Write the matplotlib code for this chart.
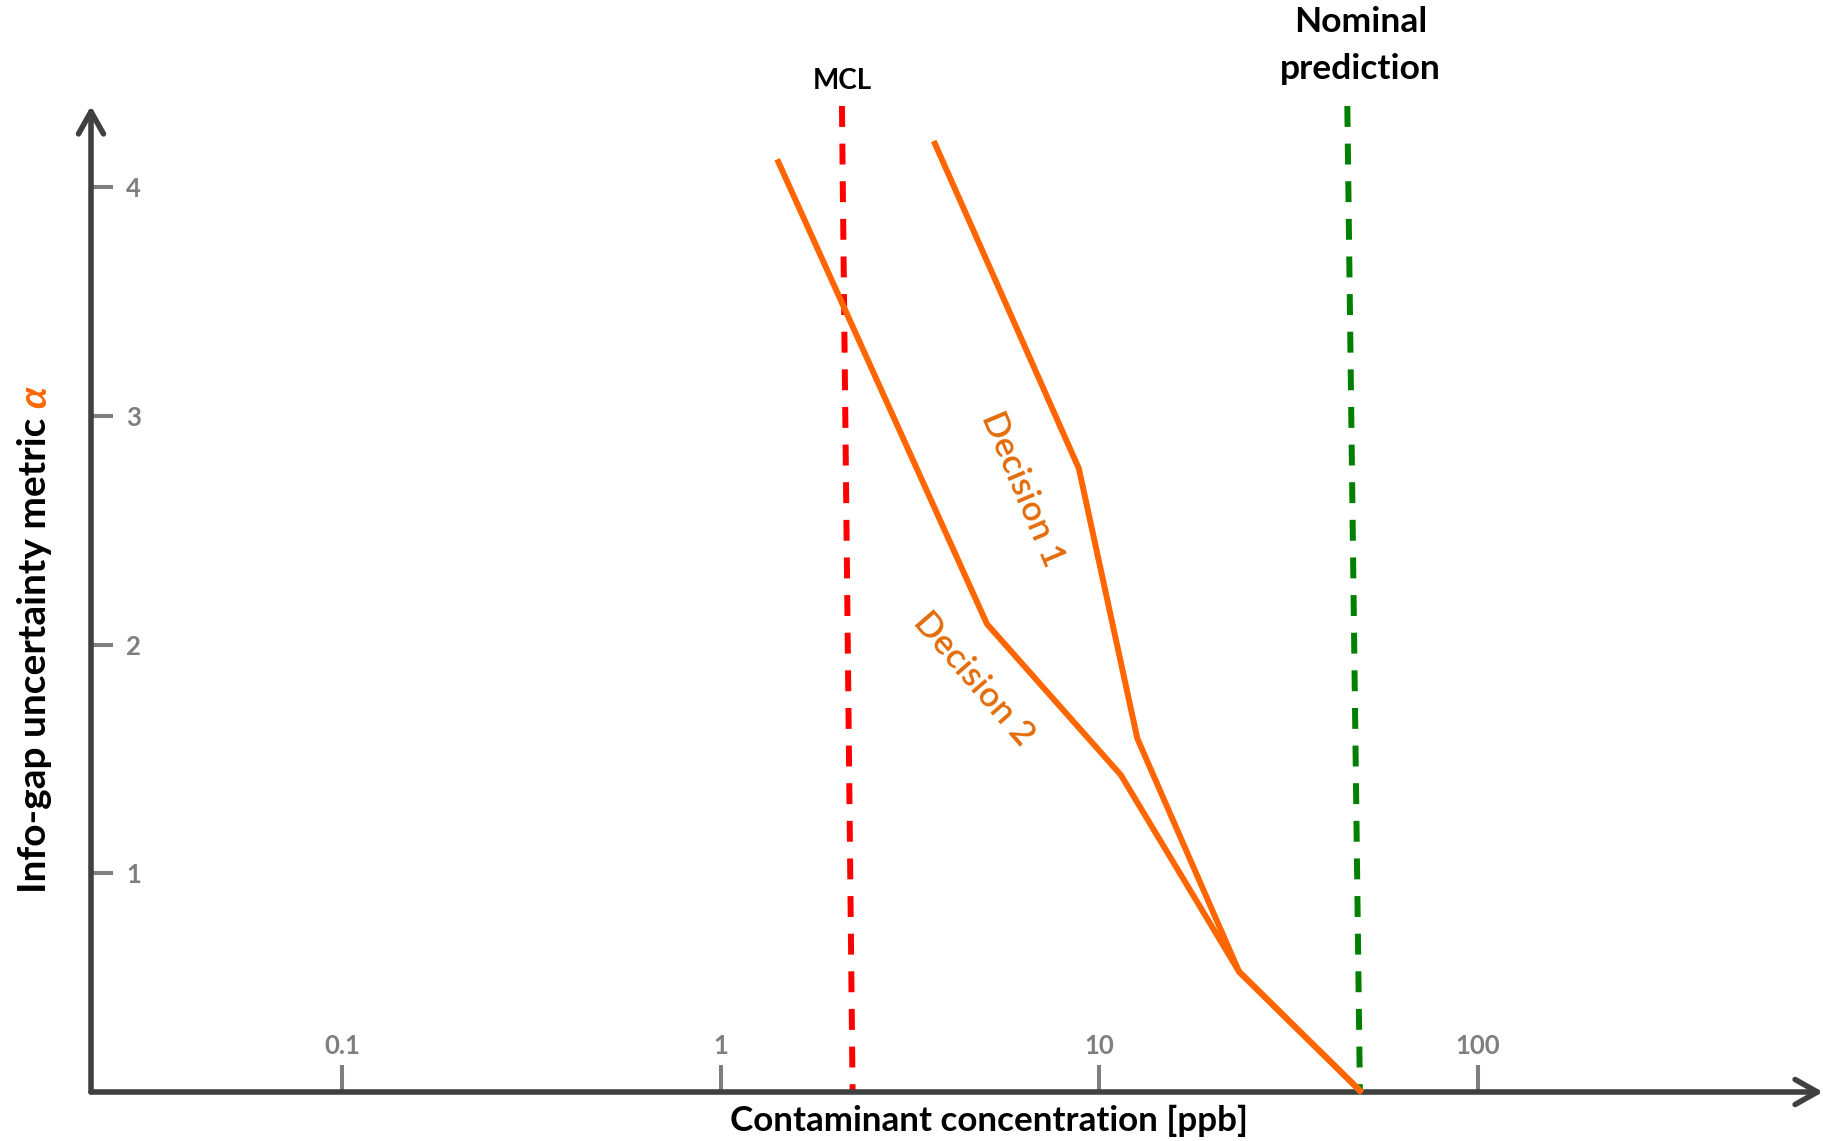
import matplotlib.pyplot as plt
from matplotlib.ticker import NullLocator

# values (concentration in ppb, info-gap alpha)
d1_conc = [3.68, 8.83, 12.6, 23.4, 48.8]
d1_alpha = [4.19, 2.77, 1.59, 0.57, 0.05]
d2_conc = [1.42, 5.05, 11.4, 23.4, 48.8]
d2_alpha = [4.11, 2.09, 1.43, 0.57, 0.05]
mcl_conc = [2.09, 2.23]        # top, bottom (slightly slanted in the original)
nominal_conc = [45.2, 48.8]    # top, bottom
x_ticks = [0.1, 1, 10, 100]
x_ticklabels = ['0.1', '1', '10', '100']
y_ticks = [1, 2, 3, 4]
y_ticklabels = ['1', '2', '3', '4']

plt.rcParams['font.family'] = ['Lato', 'DejaVu Sans']

W, H = 1831, 1141
fig = plt.figure(figsize=(W / 100, H / 100), dpi=100)
ax = fig.add_axes([91 / W, 1 - 1092 / H, (1823 - 91) / W, (1092 - 106) / H])
ax.set_xscale('log')
ax.set_xlim(0.0217, 816)
ax.set_ylim(0.044, 4.355)
ax.patch.set_visible(False)
for s in ax.spines.values():
    s.set_visible(False)

grey = '#7F7F7F'
ax.set_xticks(x_ticks, x_ticklabels)
ax.xaxis.set_minor_locator(NullLocator())
ax.set_yticks(y_ticks, y_ticklabels)
ax.tick_params(axis='x', direction='in', length=19.5, width=2.9, color=grey,
               pad=-42, labelsize=18.5, labelcolor=grey)
ax.tick_params(axis='y', direction='in', length=16, width=2.9, color=grey,
               pad=-36, labelsize=18.5, labelcolor=grey)

# axis arrows
arrow_kw = dict(arrowstyle='->,head_length=0.8,head_width=0.45', lw=4,
                color='#404040', mutation_scale=20, shrinkA=0, shrinkB=0,
                capstyle='round')
ax.annotate('', xy=(1, 0), xytext=(0, 0), xycoords='axes fraction',
            arrowprops=arrow_kw, annotation_clip=False)
ax.annotate('', xy=(0, 1), xytext=(0, 0), xycoords='axes fraction',
            arrowprops=arrow_kw, annotation_clip=False)

# reference lines
y0, y1 = ax.get_ylim()
ax.plot(mcl_conc, [y1, y0], color='#FF0000', lw=4.3, dashes=(3.5, 2.8),
        clip_on=False, zorder=2)
ax.plot(nominal_conc, [y1, y0], color='#008000', lw=4.3, dashes=(3.5, 2.8),
        clip_on=False, zorder=2)

# decision curves
ax.plot(d1_conc, d1_alpha, color='#FF6600', lw=4.3, zorder=4, clip_on=False)
ax.plot(d2_conc, d2_alpha, color='#FF6600', lw=4.3, zorder=4, clip_on=False)

ax.text(6.25, 2.68, 'Decision 1', rotation=-67, rotation_mode='anchor',
        ha='center', va='center', color='#E36C0A', fontsize=25.5,
        fontweight='semibold')
ax.text(4.65, 1.85, 'Decision 2', rotation=-49, rotation_mode='anchor',
        ha='center', va='center', color='#E36C0A', fontsize=25.5,
        fontweight='semibold')

ax.annotate('MCL', xy=(mcl_conc[0], 1), xycoords=('data', 'axes fraction'),
            xytext=(0, 18), textcoords='offset points', ha='center',
            va='center', fontsize=20, fontweight='bold')
ax.annotate('Nominal\nprediction', xy=(nominal_conc[0], 1),
            xycoords=('data', 'axes fraction'), xytext=(9.5, 43.5),
            textcoords='offset points', ha='center', va='center',
            multialignment='center', fontsize=25.5, fontweight='bold',
            linespacing=1.6)

ax.set_xlabel('Contaminant concentration [ppb]', fontsize=25.2, fontweight='bold')
ax.xaxis.set_label_coords((989 - 91) / 1732, -(1121 - 1092) / 986)
ax.xaxis.label.set_va('center')

# y label: black text followed by an orange italic alpha
ylab = fig.text(35 / W, 1 - 893 / H, 'Info-gap uncertainty metric ',
                rotation=90, ha='center', va='bottom', fontsize=28,
                fontweight='bold')
fig.canvas.draw()
bb = ylab.get_window_extent()
fig.text(35 / W, bb.y1 / H, '\u03b1', rotation=90, ha='center', va='bottom',
         fontsize=28, fontweight='bold', style='italic', color='#FF6600')

# bold tick labels (set after the ticks exist)
plt.setp(ax.get_xticklabels() + ax.get_yticklabels(), fontweight='bold')

fig.savefig('out.png', dpi=100)
